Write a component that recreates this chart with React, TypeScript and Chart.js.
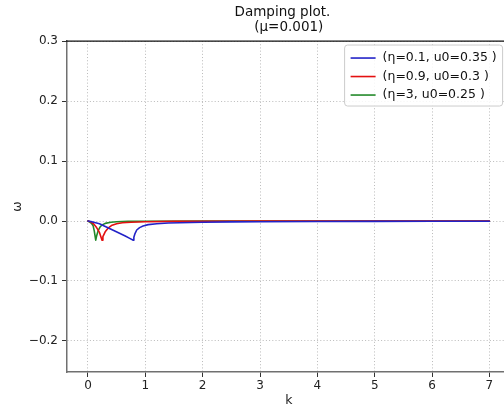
import React, { useEffect, useRef } from "react";
import { Chart, registerables } from "chart.js";

Chart.register(...registerables);

const titleLines = ["Damping plot.   ", "(μ=0.001)"];
const xTicks = [0, 1, 2, 3, 4, 5, 6, 7];
const yTicks = [-0.2, -0.1, 0.0, 0.1, 0.2, 0.3];
const seriesLabels = ["(η=0.1, u0=0.35 )", "(η=0.9, u0=0.3 )", "(η=3, u0=0.25 )"];
const seriesColors = ["#2323c8", "#e41010", "#23892a"];

const blueK = [0, 0.05, 0.1, 0.2, 0.32, 0.44, 0.55, 0.65, 0.72, 0.79, 0.8, 0.82, 0.85, 0.9, 0.96, 1.05, 1.2, 1.4, 1.6, 2.0, 2.5, 3, 4, 5, 6, 7];
const blueW = [0, -0.0008, -0.002, -0.0045, -0.010, -0.0155, -0.0205, -0.025, -0.0285, -0.032, -0.027, -0.021, -0.015, -0.011, -0.0083, -0.006, -0.0045, -0.0034, -0.0028, -0.002, -0.0015, -0.0012, -0.0008, -0.0006, -0.0005, -0.0004];

const redK = [0, 0.05, 0.1, 0.15, 0.2, 0.245, 0.26, 0.3, 0.35, 0.42, 0.5, 0.6, 0.75, 1.0, 1.5, 2, 3, 4, 5, 6, 7];
const redW = [0, -0.0015, -0.005, -0.011, -0.019, -0.032, -0.026, -0.018, -0.012, -0.007, -0.0045, -0.003, -0.002, -0.0012, -0.0006, -0.0004, -0.0002, -0.0001, -0.0001, -0.0001, 0];

const greenK = [0, 0.03, 0.06, 0.09, 0.11, 0.135, 0.15, 0.18, 0.21, 0.24, 0.3, 0.4, 0.5, 0.7, 1, 2, 3, 7];
const greenW = [0, -0.002, -0.004, -0.008, -0.017, -0.032, -0.025, -0.0155, -0.010, -0.007, -0.004, -0.002, -0.0012, -0.0006, -0.0003, -0.0001, 0, 0];

const FONT = "'DejaVu Sans', sans-serif";

function pts(k: number[], w: number[]) {
  return k.map((v, i) => ({ x: v, y: w[i] }));
}

const legendPlugin = {
  id: "boxLegend",
  afterDatasetsDraw(chart: any) {
    const ctx = chart.ctx;
    const area = chart.chartArea;
    const x0 = area.right - 166;
    const y0 = area.top + 4;
    const w = 158;
    const h = 61;
    const r = 3;
    ctx.save();
    ctx.beginPath();
    ctx.moveTo(x0 + r, y0);
    ctx.lineTo(x0 + w - r, y0);
    ctx.quadraticCurveTo(x0 + w, y0, x0 + w, y0 + r);
    ctx.lineTo(x0 + w, y0 + h - r);
    ctx.quadraticCurveTo(x0 + w, y0 + h, x0 + w - r, y0 + h);
    ctx.lineTo(x0 + r, y0 + h);
    ctx.quadraticCurveTo(x0, y0 + h, x0, y0 + h - r);
    ctx.lineTo(x0, y0 + r);
    ctx.quadraticCurveTo(x0, y0, x0 + r, y0);
    ctx.closePath();
    ctx.fillStyle = "rgba(255,255,255,0.85)";
    ctx.fill();
    ctx.strokeStyle = "#cccccc";
    ctx.lineWidth = 1;
    ctx.stroke();
    chart.data.datasets.forEach((ds: any, i: number) => {
      const yy = y0 + 13 + i * 18.5;
      ctx.beginPath();
      ctx.moveTo(x0 + 6, yy);
      ctx.lineTo(x0 + 31, yy);
      ctx.strokeStyle = ds.borderColor;
      ctx.lineWidth = 1.6;
      ctx.stroke();
      ctx.fillStyle = "#111";
      ctx.font = `12.5px ${FONT}`;
      ctx.textBaseline = "middle";
      ctx.textAlign = "left";
      ctx.fillText(ds.label, x0 + 38, yy);
    });
    ctx.restore();
  },
};

const topSpinePlugin = {
  id: "topSpine",
  afterDatasetsDraw(chart: any) {
    const ctx = chart.ctx;
    const a = chart.chartArea;
    ctx.save();
    ctx.beginPath();
    ctx.moveTo(a.left - 1, a.top);
    ctx.lineTo(a.right, a.top);
    ctx.strokeStyle = "#111";
    ctx.lineWidth = 1.3;
    ctx.stroke();
    ctx.restore();
  },
};

export default function App() {
  const ref = useRef<HTMLCanvasElement | null>(null);
  useEffect(() => {
    if (!ref.current) return;
    const datasets = [pts(blueK, blueW), pts(redK, redW), pts(greenK, greenW)].map((d, i) => ({
      label: seriesLabels[i],
      data: d,
      borderColor: seriesColors[i],
      backgroundColor: seriesColors[i],
      borderWidth: 1.6,
      borderJoinStyle: "round",
      borderCapStyle: "round",
      pointRadius: 0,
      tension: 0,
      fill: false,
    }));
    const grid = {
      color: "#a8a8a8",
      lineWidth: 0.8,
      tickColor: "#333",
      tickLength: 5,
      tickWidth: 1,
      tickBorderDash: [],
    };
    const border = { display: true, color: "#707070", width: 1.5, dash: [1, 2.2] };
    const chart = new Chart(ref.current, {
      type: "line",
      data: { datasets },
      plugins: [legendPlugin, topSpinePlugin],
      options: {
        animation: false,
        responsive: false,
        layout: { padding: { left: 0, right: 67.4, top: 0, bottom: 0 } },
        plugins: {
          legend: { display: false },
          tooltip: { enabled: false },
          title: {
            display: true,
            text: titleLines,
            fullSize: false,
            color: "#111",
            font: { family: FONT, size: 13.5, weight: "normal", lineHeight: 1.12 },
            padding: { top: 4.5, bottom: 6.3 },
          },
        },
        scales: {
          x: {
            type: "linear",
            min: -0.366,
            max: 7.37,
            afterBuildTicks: (s: any) => {
              s.ticks = xTicks.map((v) => ({ value: v }));
            },
            afterFit: (s: any) => {
              s.height = 36;
            },
            ticks: {
              color: "#222",
              font: { family: FONT, size: 12 },
              padding: 2,
              maxRotation: 0,
              callback: (v: any) => String(v),
            },
            grid,
            border,
            title: {
              display: true,
              text: "k",
              color: "#222",
              font: { family: FONT, size: 12.5 },
              padding: 0,
            },
          },
          y: {
            type: "linear",
            min: -0.2517,
            max: 0.3,
            afterBuildTicks: (s: any) => {
              s.ticks = yTicks.map((v) => ({ value: v }));
            },
            afterFit: (s: any) => {
              s.width = 67;
            },
            ticks: {
              color: "#222",
              font: { family: FONT, size: 12 },
              padding: 4,
              callback: (v: any) => {
                const n = Number(v);
                const s = Math.abs(n).toFixed(1);
                return n < -1e-9 ? "\u2212" + s : s;
              },
            },
            grid,
            border,
            title: {
              display: true,
              text: "ω",
              color: "#222",
              font: { family: FONT, size: 12.5 },
              padding: 10,
            },
          },
        },
      } as any,
    });
    return () => chart.destroy();
  }, []);
  return (
    <div style={{ position: "fixed", left: 0, top: 0, width: 504, height: 408, overflow: "hidden", background: "#fff" }}>
      <canvas ref={ref} width={578} height={408} style={{ display: "block", width: 578, height: 408 }} />
    </div>
  );
}
